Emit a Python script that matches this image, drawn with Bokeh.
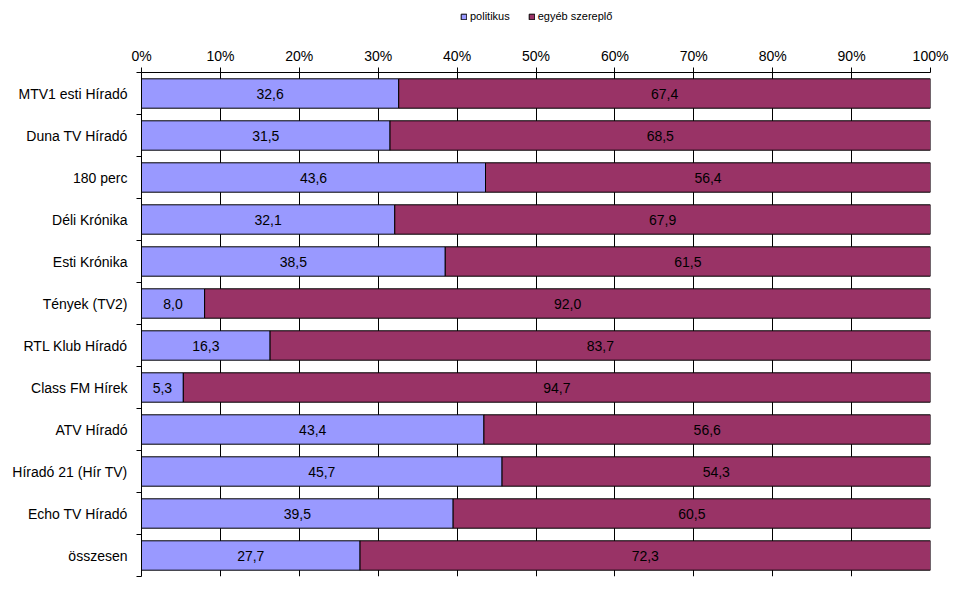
from bokeh.plotting import figure
from bokeh.layouts import column
from bokeh.models import Range1d, FixedTicker, PrintfTickFormatter, ColumnDataSource, Legend, LegendItem
from bokeh.core.properties import value
from bokeh.embed import file_html
from bokeh.resources import INLINE

categories = ["MTV1 esti Híradó", "Duna TV Híradó", "180 perc", "Déli Krónika", "Esti Krónika",
              "Tények (TV2)", "RTL Klub Híradó", "Class FM Hírek", "ATV Híradó",
              "Híradó 21 (Hír TV)", "Echo TV Híradó", "összesen"]
politikus = [32.6, 31.5, 43.6, 32.1, 38.5, 8.0, 16.3, 5.3, 43.4, 45.7, 39.5, 27.7]
egyeb = [67.4, 68.5, 56.4, 67.9, 61.5, 92.0, 83.7, 94.7, 56.6, 54.3, 60.5, 72.3]
series_names = ["politikus", "egyéb szereplő"]
series_colors = ["#9999FF", "#993366"]
x_ticks = [0, 10, 20, 30, 40, 50, 60, 70, 80, 90, 100]

FONT = "Liberation Sans"
n = len(categories)
ys = [n - 0.5 - i for i in range(n)]

src = ColumnDataSource(dict(
    y=ys,
    p_left=[0] * n,
    p_right=politikus,
    e_left=politikus,
    e_right=[a + b for a, b in zip(politikus, egyeb)],
    p_mid=[v / 2 for v in politikus],
    e_mid=[a + b / 2 for a, b in zip(politikus, egyeb)],
    p_txt=[f"{v:.1f}".replace(".", ",") for v in politikus],
    e_txt=[f"{v:.1f}".replace(".", ",") for v in egyeb],
))

LEG_H = 30

# ---- legend strip ----
lp = figure(width=969, height=LEG_H, output_backend="svg", toolbar_location=None,
            x_range=Range1d(0, 100), y_range=Range1d(0, 1),
            x_axis_location=None, y_axis_location=None, min_border=0)
lp.outline_line_color = None
lp.grid.grid_line_color = None
hidden = ColumnDataSource(dict(y=[-5], l=[0], r=[1]))  # outside the visible range
d1 = lp.hbar(y="y", left="l", right="r", height=1, source=hidden,
             fill_color=series_colors[0], line_color="black", line_width=1)
d2 = lp.hbar(y="y", left="l", right="r", height=1, source=hidden,
             fill_color=series_colors[1], line_color="black", line_width=1)
legend = Legend(items=[LegendItem(label=series_names[0], renderers=[d1]),
                       LegendItem(label=series_names[1], renderers=[d2])],
                orientation="horizontal", location=(319, 4),
                label_text_font=FONT, label_text_font_size="11px", label_text_color="black",
                label_height=20, glyph_width=7, glyph_height=7, spacing=18, label_standoff=3,
                border_line_color=None, background_fill_alpha=0, padding=0, margin=0)
lp.add_layout(legend, "center")

# ---- main chart ----
p = figure(width=969, height=592 - LEG_H, output_backend="svg", toolbar_location=None,
           x_range=Range1d(0, 100), y_range=Range1d(0, n),
           x_axis_location="above", min_border_left=141, min_border_right=39,
           min_border_top=72 - LEG_H, min_border_bottom=16)
p.outline_line_color = None
p.background_fill_color = "white"
p.border_fill_color = "white"

r1 = p.hbar(y="y", left="p_left", right="p_right", height=0.7, source=src,
            fill_color=series_colors[0], line_color="black", line_width=1)
r2 = p.hbar(y="y", left="e_left", right="e_right", height=0.7, source=src,
            fill_color=series_colors[1], line_color="black", line_width=1)

p.text(x="p_mid", y="y", text="p_txt", source=src, text_align="center", text_baseline="middle",
       text_font=value(FONT), text_font_size="14px", text_color="black")
p.text(x="e_mid", y="y", text="e_txt", source=src, text_align="center", text_baseline="middle",
       text_font=value(FONT), text_font_size="14px", text_color="black")

# x axis (top)
xa = p.xaxis[0]
xa.ticker = FixedTicker(ticks=x_ticks, minor_ticks=[])
xa.formatter = PrintfTickFormatter(format="%d%%")
xa.major_tick_out = 5
xa.major_tick_in = 0
xa.minor_tick_out = 0
xa.major_label_standoff = 4
xa.major_label_text_font = FONT
xa.major_label_text_font_size = "14px"
xa.major_label_text_color = "black"
xa.axis_line_color = "black"
xa.major_tick_line_color = "black"

# y axis (left)
ya = p.yaxis[0]
ya.ticker = FixedTicker(ticks=ys, minor_ticks=list(range(n + 1)))
ya.major_label_overrides = {y: c for y, c in zip(ys, categories)}
ya.major_tick_out = 0
ya.major_tick_in = 0
ya.minor_tick_out = 5
ya.minor_tick_in = 0
ya.minor_tick_line_color = "black"
ya.major_label_standoff = 9
ya.major_label_text_font = FONT
ya.major_label_text_font_size = "14px"
ya.major_label_text_color = "black"
ya.axis_line_color = "black"

p.xgrid.grid_line_color = "black"
p.xgrid.grid_line_width = 1
p.ygrid.grid_line_color = None

layout = column(lp, p, spacing=0)
open("out.html", "w").write(file_html(layout, INLINE))
